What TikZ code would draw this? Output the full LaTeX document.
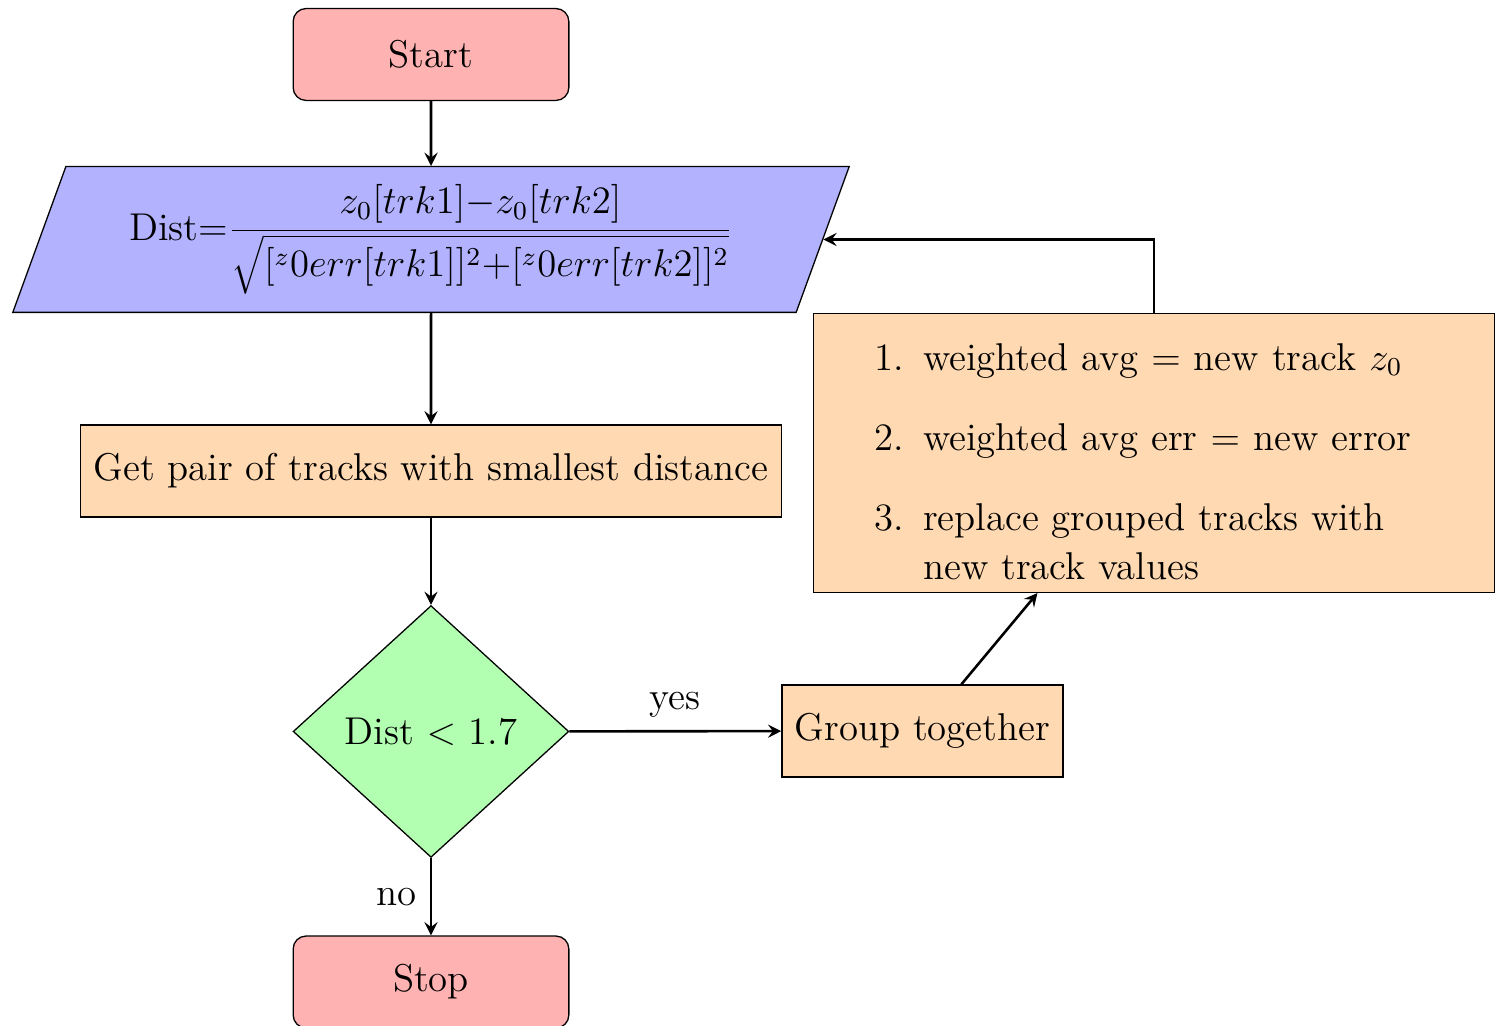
\documentclass[tikz,12pt,border=0pt]{standalone}
\usetikzlibrary{shapes.geometric,arrows}
\begin{document}
\begin{tikzpicture}[x=0.3096pt,y=-0.3096pt,
  startstop/.style={rectangle, rounded corners, minimum width=3cm, minimum height=1cm,
    text centered, draw=black, fill=red!30},
  io/.style={trapezium, trapezium left angle=70, trapezium right angle=110,
    minimum width=259.4pt, minimum height=1cm, inner ysep=2.5pt,
    text centered, draw=black, fill=blue!30},
  process/.style={rectangle, minimum width=3cm, minimum height=1cm,
    text centered, draw=black, fill=orange!30},
  decision/.style={diamond, minimum width=3cm, minimum height=1cm,
    text centered, draw=black, fill=green!30},
  arrow/.style={thick,->,>=stealth}]
\useasboundingbox (0,0) rectangle (1500,1026);

% main column
\node[startstop] (start) at (431,54.5) {Start};
\node[io] (dist) at (431,239.5)
  {Dist=$\displaystyle\frac{z_0[trk1]{-}z_0[trk2]}{\sqrt{[^z0err[trk1]]^2{+}[^z0err[trk2]]^2}}$};
\node[process] (pair) at (431,471) {Get pair of tracks with smallest distance};
\node[decision] (dec) at (431,731.5) {Dist $<$ 1.7};
\node[startstop] (stop) at (431,982) {Stop};

% grouping branch
\node[process, text width=203pt, align=left, font=\fontsize{12}{15.1}\selectfont]
  (update) at (1154,453) {\vspace*{-1.6pt}%
  \begin{list}{\arabic{enumi}.}{\usecounter{enumi}%
      \setlength{\topsep}{0pt}\setlength{\partopsep}{0pt}%
      \setlength{\parsep}{0pt}\setlength{\itemsep}{9.7pt}%
      \setlength{\leftmargin}{30pt}\setlength{\labelwidth}{24pt}%
      \setlength{\labelsep}{6pt}}
  \item weighted avg $=$ new track $z_0$
  \item weighted avg err $=$ new error
  \item replace grouped tracks with\\ new track values
  \end{list}};
\node[process] (group) at (922.5,731) {Group together};

% connectors
\draw[arrow] (start) -- (dist);
\draw[arrow] (dist) -- (pair);
\draw[arrow] (pair) -- (dec);
\draw[arrow] (dec) -- node[left] {no} (stop);
\draw[arrow] (dec) -- node[above] {yes} (group);
\draw[arrow] (group) -- (update);
\draw[arrow] (update.north) |- (dist.east);
\end{tikzpicture}
\end{document}
